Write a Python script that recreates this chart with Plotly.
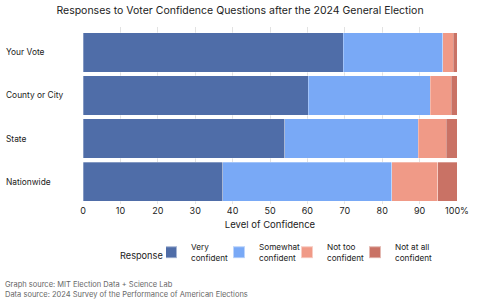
import plotly.graph_objects as go

categories = ["Your Vote", "County or City", "State", "Nationwide"]
series_names = ["Very<br>confident", "Somewhat<br>confident", "Not too<br>confident", "Not at all<br>confident"]
very_confident = [69.6, 60.2, 54.0, 37.3]
somewhat_confident = [26.6, 32.6, 35.6, 45.3]
not_too_confident = [2.8, 5.7, 7.5, 12.3]
not_at_all_confident = [1.0, 1.5, 2.9, 5.1]
tick_vals = [0, 10, 20, 30, 40, 50, 60, 70, 80, 90, 100]
tick_text = ["0", "10", "20", "30", "40", "50", "60", "70", "80", "90", "100%"]
colors = ["#4f6da8", "#79a9f6", "#f09a87", "#c97265"]
source_lines = ["Graph source: MIT Election Data + Science Lab",
                "Data source: 2024 Survey of the Performance of American Elections"]

FONT = "Inter"
PW, PH = 374, 177  # plot area px

def px_x(px):
    return (px - 83) / PW

def px_y(py):
    return (204 - py) / PH

fig = go.Figure()
for name, vals, col in zip(series_names,
                           [very_confident, somewhat_confident, not_too_confident, not_at_all_confident],
                           colors):
    fig.add_trace(go.Bar(
        y=categories, x=vals, name=name, orientation="h",
        marker=dict(color=col, line=dict(color="rgba(255,255,255,0.5)", width=0.6)),
    ))

for c in categories:
    fig.add_annotation(text=c, x=px_x(4), xref="paper", xanchor="left",
                       y=c, yref="y", showarrow=False,
                       font=dict(family=FONT, size=8.4, color="#222"))

fig.add_annotation(text="<br>".join(source_lines), x=px_x(3), xref="paper", xanchor="left",
                   align="left", y=px_y(289), yref="paper", yanchor="middle", showarrow=False,
                   font=dict(family=FONT, size=7.5, color="#666"))

fig.add_annotation(text="Response", x=px_x(118), xref="paper", xanchor="left",
                   y=px_y(255), yref="paper", yanchor="middle", showarrow=False,
                   font=dict(family=FONT, size=9.2, color="#222"))

fig.update_layout(
    width=480, height=300,
    barmode="stack", bargap=0.09,
    margin=dict(l=83, r=23, t=27, b=96, autoexpand=False),
    plot_bgcolor="white", paper_bgcolor="white",
    font=dict(family=FONT, size=9, color="#222"),
    title=dict(text="Responses to Voter Confidence Questions after the 2024 General Election",
               x=0.5, xanchor="center", y=1 - 10/300, yanchor="middle",
               font=dict(family=FONT, size=10.5, color="#222")),
    xaxis=dict(range=[0, 100], tickvals=tick_vals, ticktext=tick_text,
               showgrid=True, gridcolor="#e2e2e2", gridwidth=1, zeroline=False,
               showline=False, ticks="", tickfont=dict(size=9),
               title=dict(text="Level of Confidence", font=dict(size=9.5), standoff=6)),
    yaxis=dict(categoryorder="array", categoryarray=categories,
               range=[3.52, -0.59], showticklabels=False, showgrid=False,
               zeroline=False, ticks=""),
    legend=dict(orientation="h", x=px_x(166), xanchor="left",
                y=px_y(235), yanchor="top",
                font=dict(size=8.2), indentation=-15, itemwidth=30,
                entrywidth=38, entrywidthmode="pixels",
                traceorder="normal", itemsizing="constant"),
    showlegend=True,
)

fig.write_html("out.html")
